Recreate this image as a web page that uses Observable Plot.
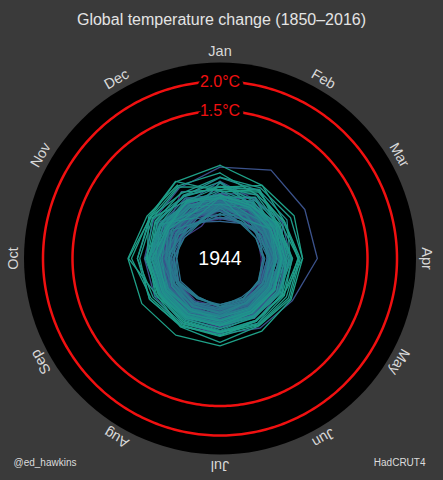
<!DOCTYPE html>
<html><head><meta charset="utf-8">
<script src="https://cdn.jsdelivr.net/npm/d3@7"></script>
<script src="https://cdn.jsdelivr.net/npm/@observablehq/plot@0.6"></script>
<style>
html,body{margin:0;padding:0;background:#3a3a3a;}
#wrap{width:443px;height:480px;background:#3a3a3a;font-family:"Liberation Sans",Arial,sans-serif;overflow:hidden;}
#title{height:34px;line-height:40px;text-align:center;color:#e4e4e4;font-size:16px;}
#chart svg{display:block;}
</style></head><body>
<div id="wrap"><div id="title">Global temperature change (1850–2016)</div><div id="chart"></div></div>
<script>
const months = ["Jan","Feb","Mar","Apr","May","Jun","Jul","Aug","Sep","Oct","Nov","Dec"];
const firstYear = 1850;
const currentYear = 1944;
const colorYears = [1825, 2035];
const rings = [2.0, 1.5];
const ringLabels = ["2.0°C", "1.5°C"];
const credits = ["@ed_hawkins", "HadCRUT4"];
// monthly anomalies (°C, relative to 1850–1900), one row per year 1850..1944
const anomalies = [
[-0.34,0.00,-0.27,-0.30,-0.21,-0.02,0.02,-0.04,-0.10,-0.07,0.06,0.08],
[-0.02,-0.17,0.06,0.02,0.08,0.12,0.18,0.10,0.14,0.16,0.10,0.07],
[-0.02,-0.14,-0.09,-0.14,0.12,0.17,0.04,0.12,0.04,0.06,0.03,0.31],
[0.15,-0.08,-0.01,0.07,0.03,0.02,0.08,0.09,-0.12,-0.05,-0.18,-0.05],
[-0.15,-0.01,-0.06,-0.12,-0.03,0.10,0.16,0.14,0.14,0.03,-0.09,0.02],
[0.04,-0.18,0.10,0.02,0.04,0.03,-0.03,0.09,0.05,-0.03,-0.08,-0.27],
[0.00,-0.13,-0.13,-0.09,-0.06,-0.04,-0.06,-0.01,-0.11,-0.12,-0.14,-0.07],
[-0.08,-0.20,-0.24,-0.26,-0.19,-0.15,-0.10,-0.12,-0.17,-0.16,-0.22,-0.15],
[-0.18,-0.31,-0.15,-0.05,-0.24,-0.15,-0.12,-0.13,-0.18,-0.07,-0.24,-0.14],
[-0.05,0.06,0.14,-0.07,-0.07,0.03,0.04,0.04,-0.08,0.05,-0.24,-0.20],
[-0.10,-0.23,-0.25,-0.11,-0.05,0.00,-0.02,0.02,0.01,-0.01,-0.10,-0.30],
[-0.33,-0.07,-0.17,-0.16,-0.20,-0.03,0.06,0.00,-0.02,-0.02,-0.11,-0.05],
[-0.32,-0.29,-0.20,-0.19,-0.22,-0.18,-0.18,-0.17,-0.19,-0.20,-0.29,-0.37],
[-0.05,0.10,-0.04,-0.07,-0.05,-0.06,0.05,0.02,-0.04,-0.04,0.03,0.07],
[-0.32,-0.20,-0.10,-0.20,-0.18,-0.11,-0.16,-0.13,-0.20,-0.23,-0.25,-0.30],
[0.01,-0.15,-0.12,0.04,0.04,0.06,0.05,0.04,0.08,0.05,-0.04,0.07],
[0.10,0.06,-0.08,0.00,0.06,0.02,0.10,0.05,0.02,0.01,0.03,-0.06],
[-0.01,0.10,-0.12,0.06,-0.09,-0.02,0.00,0.03,0.02,-0.04,-0.14,-0.17],
[-0.20,-0.10,0.08,0.04,0.12,0.06,0.15,0.10,0.08,0.09,0.00,0.18],
[0.02,0.18,0.01,0.02,0.05,0.00,0.02,0.04,0.05,0.06,0.03,-0.06],
[-0.05,-0.08,-0.03,0.06,0.02,0.06,0.10,0.08,0.06,0.00,0.04,-0.20],
[-0.18,-0.22,0.07,-0.03,-0.06,-0.03,0.02,0.00,-0.02,-0.05,-0.18,-0.14],
[-0.10,0.05,0.02,0.05,0.11,0.10,0.09,0.12,0.13,0.10,0.05,0.04],
[0.05,-0.05,-0.02,-0.04,-0.03,-0.03,0.05,0.03,-0.01,0.01,-0.09,0.01],
[0.06,-0.18,-0.12,-0.07,-0.05,-0.06,-0.01,-0.05,-0.07,-0.07,-0.14,-0.04],
[-0.07,-0.22,-0.12,-0.12,-0.02,-0.04,-0.02,-0.06,-0.04,-0.12,-0.20,-0.10],
[-0.07,0.00,-0.20,-0.12,-0.08,-0.08,-0.05,-0.10,-0.06,-0.05,-0.14,-0.20],
[-0.03,0.02,0.07,0.09,0.16,0.23,0.27,0.33,0.28,0.28,0.30,0.38],
[0.55,0.73,0.66,0.65,0.42,0.36,0.28,0.27,0.21,0.15,0.10,0.02],
[0.06,0.00,0.06,0.08,0.00,0.05,0.08,0.12,0.10,0.08,0.02,-0.21],
[0.08,0.04,0.06,0.01,0.03,-0.06,0.02,0.10,0.01,0.00,0.00,0.00],
[0.04,0.04,0.10,0.17,0.13,0.06,0.14,0.07,0.05,0.01,0.06,0.10],
[0.31,0.16,0.23,0.03,0.07,-0.01,0.06,0.10,0.12,0.05,0.01,-0.10],
[-0.14,-0.17,-0.04,0.03,0.07,0.08,0.06,0.06,0.02,-0.04,-0.10,-0.03],
[-0.01,0.05,-0.16,-0.20,-0.10,-0.13,-0.10,-0.08,-0.11,-0.21,-0.27,-0.28],
[-0.31,-0.20,-0.15,-0.16,-0.12,-0.14,-0.05,-0.02,-0.06,-0.07,-0.01,0.03],
[-0.05,-0.16,-0.10,-0.02,-0.09,-0.04,-0.03,-0.05,-0.10,-0.12,-0.18,-0.07],
[-0.32,-0.30,-0.10,-0.12,-0.10,-0.08,-0.08,-0.07,-0.10,-0.14,-0.13,-0.10],
[-0.11,-0.05,-0.14,-0.06,-0.03,-0.02,-0.01,-0.02,-0.02,0.05,0.06,0.10],
[0.10,0.26,0.22,0.20,0.14,0.12,0.12,0.08,0.05,0.04,-0.01,0.05],
[-0.07,-0.12,-0.13,-0.08,-0.09,-0.09,-0.07,-0.15,-0.16,-0.07,-0.15,-0.18],
[-0.19,-0.23,-0.08,-0.01,0.03,0.03,0.03,-0.01,-0.01,0.00,-0.10,-0.06],
[-0.26,-0.05,-0.14,-0.11,-0.12,-0.11,-0.15,-0.10,-0.08,-0.08,-0.25,-0.29],
[-0.37,-0.31,-0.20,-0.16,-0.15,-0.12,-0.10,-0.12,-0.12,-0.06,-0.13,-0.17],
[-0.16,-0.12,-0.06,-0.14,-0.08,-0.13,-0.12,-0.08,-0.06,-0.07,-0.08,-0.06],
[-0.12,-0.20,-0.04,-0.04,-0.06,-0.05,-0.05,-0.02,-0.02,-0.08,-0.04,-0.09],
[-0.02,-0.03,-0.08,0.02,0.06,0.10,0.18,0.18,0.13,0.23,0.16,0.18],
[0.08,0.05,0.11,0.12,0.16,0.14,0.12,0.12,0.08,0.10,0.05,0.00],
[-0.07,0.14,-0.26,-0.13,-0.13,-0.08,-0.06,-0.08,-0.10,-0.16,-0.19,-0.12],
[-0.03,-0.20,-0.07,0.03,-0.03,-0.02,0.05,0.05,0.14,0.10,0.21,0.04],
[0.00,0.10,0.12,0.14,0.13,0.14,0.12,0.13,0.10,0.16,0.02,0.09],
[0.07,0.00,0.11,0.13,0.04,0.04,0.09,0.03,0.02,0.05,-0.04,-0.03],
[0.05,0.10,-0.06,-0.04,-0.13,-0.10,-0.08,-0.12,-0.12,-0.16,-0.26,-0.28],
[-0.04,0.10,-0.12,-0.20,-0.20,-0.25,-0.18,-0.25,-0.23,-0.27,-0.24,-0.31],
[-0.30,-0.28,-0.30,-0.24,-0.23,-0.21,-0.22,-0.22,-0.20,-0.08,0.00,-0.14],
[-0.13,-0.31,-0.06,-0.11,-0.04,-0.05,-0.04,-0.02,-0.07,-0.12,0.09,0.02],
[-0.03,-0.11,-0.03,0.06,-0.08,0.00,-0.02,-0.01,-0.07,0.00,-0.16,0.07],
[-0.20,-0.29,-0.12,-0.16,-0.17,-0.18,-0.15,-0.15,-0.10,-0.07,-0.24,-0.17],
[-0.13,-0.10,-0.27,-0.18,-0.16,-0.17,-0.17,-0.24,-0.18,-0.26,-0.24,-0.22],
[-0.26,-0.14,-0.23,-0.27,-0.24,-0.22,-0.22,-0.12,-0.16,-0.18,-0.14,-0.31],
[-0.11,-0.15,-0.17,-0.14,-0.16,-0.16,-0.13,-0.11,-0.15,-0.22,-0.30,-0.31],
[-0.24,-0.31,-0.30,-0.27,-0.25,-0.20,-0.19,-0.22,-0.16,-0.09,-0.08,-0.10],
[-0.08,0.06,-0.12,-0.03,-0.06,-0.11,-0.18,-0.25,-0.19,-0.22,-0.14,-0.16],
[-0.09,-0.14,-0.16,-0.09,-0.17,-0.13,-0.09,-0.06,-0.11,-0.08,0.01,0.01],
[0.09,-0.04,-0.01,0.00,0.03,0.03,0.05,0.12,0.06,0.12,0.08,0.13],
[0.03,0.20,0.12,0.20,0.14,0.14,0.22,0.17,0.16,0.16,0.15,0.08],
[0.08,0.01,-0.10,-0.05,-0.09,-0.13,-0.07,-0.08,-0.06,-0.12,-0.19,-0.28],
[-0.15,-0.25,-0.22,-0.16,-0.12,-0.13,-0.03,-0.02,-0.06,-0.14,-0.05,-0.29],
[-0.08,-0.21,-0.02,-0.06,-0.10,-0.04,-0.03,-0.01,0.05,0.08,0.06,0.05],
[0.01,0.01,-0.04,0.09,-0.02,0.02,-0.03,0.05,0.09,0.08,0.00,0.01],
[0.14,0.03,0.11,0.09,0.04,0.02,0.06,0.08,0.11,0.06,0.05,-0.06],
[0.28,0.07,0.08,0.06,0.04,0.07,0.13,0.11,0.16,0.20,0.11,0.15],
[0.06,-0.11,0.05,0.02,-0.01,0.00,0.04,-0.02,0.05,-0.02,0.05,0.04],
[0.02,0.00,-0.03,-0.08,0.00,0.03,0.05,0.00,0.02,0.18,0.18,0.10],
[0.08,-0.02,0.04,0.02,0.07,0.07,0.05,0.01,0.01,0.02,0.03,0.00],
[-0.08,-0.03,0.10,0.05,0.04,0.07,0.04,0.09,0.12,0.13,0.24,0.22],
[0.37,0.33,0.31,0.19,0.15,0.12,0.11,0.16,0.18,0.21,0.17,0.09],
[0.16,0.09,0.00,0.04,0.07,0.07,0.09,0.12,0.16,0.21,0.14,-0.10],
[0.29,0.12,0.05,0.06,0.07,0.04,0.14,0.13,0.10,0.11,0.12,0.10],
[0.04,-0.22,0.00,-0.04,-0.04,-0.02,0.00,0.02,0.05,0.09,0.17,-0.20],
[0.04,0.10,0.12,0.10,0.11,0.13,0.14,0.16,0.20,0.25,0.32,0.22],
[0.22,0.15,0.17,0.17,0.20,0.27,0.24,0.23,0.20,0.27,0.17,0.24],
[0.30,0.04,0.07,0.22,0.15,0.15,0.14,0.13,0.27,0.20,0.06,0.12],
[0.02,0.00,-0.01,0.05,0.05,0.03,0.06,0.08,0.07,0.05,0.00,-0.10],
[0.05,0.19,0.03,0.11,0.22,0.21,0.23,0.21,0.18,0.19,0.26,0.21],
[0.22,0.35,0.10,0.04,0.07,0.07,0.13,0.15,0.13,0.15,0.03,0.12],
[0.08,0.04,0.15,0.14,0.18,0.16,0.19,0.19,0.19,0.21,0.22,0.23],
[0.21,0.34,0.14,0.22,0.26,0.28,0.29,0.33,0.38,0.40,0.38,0.28],
[0.38,0.38,0.38,0.40,0.24,0.21,0.25,0.28,0.31,0.40,0.36,0.13],
[0.22,0.24,0.14,0.23,0.22,0.23,0.26,0.26,0.24,0.23,0.40,0.51],
[0.14,0.30,0.24,0.34,0.34,0.31,0.32,0.32,0.38,0.36,0.33,0.40],
[0.21,0.43,0.26,0.36,0.37,0.32,0.42,0.34,0.24,0.55,0.37,0.42],
[0.45,0.25,0.26,0.32,0.30,0.30,0.25,0.24,0.21,0.24,0.27,0.30],
[0.17,0.32,0.19,0.33,0.24,0.22,0.31,0.30,0.35,0.50,0.38,0.50],
[0.58,0.43,0.45,0.40,0.39,0.42,0.48,0.50,0.53,0.56,0.43,0.44]
];

// ---- layout constants (pixels) ----
const W = 443, H = 446;
const cx = 219.5, cy = 224;      // centre of the disk inside the SVG
const k = 59;                    // pixels per °C
const offset = 1;                // radius 0 at −1 °C
const diskR = 196;               // black disk radius in px
const labelR = 207;              // month label radius in px

const rad = t => t + offset;     // radial value in scale units
const toXY = (u, angleDeg) => {
  const a = angleDeg * Math.PI / 180;
  return {x: u * Math.sin(a), y: u * Math.cos(a)};
};

// spiral points: each year's line runs Jan..Dec and on to next January
const pts = [];
anomalies.forEach((row, i) => {
  const year = firstYear + i;
  row.forEach((t, m) => pts.push({year, ...toXY(rad(t), m * 30)}));
  if (i + 1 < anomalies.length) pts.push({year, ...toXY(rad(anomalies[i + 1][0]), 360)});
});

// ring outlines
const ringPts = [];
rings.forEach(r => { for (let a = 0; a <= 360; a += 1) ringPts.push({ring: r, ...toXY(rad(r), a)}); });
const ringText = rings.map((r, i) => ({label: ringLabels[i], ...toXY(rad(r), 0)}));
const monthText = months.map((m, i) => ({label: m, rot: i * 30, ...toXY(labelR / k, i * 30)}));

const chart = Plot.plot({
  width: W, height: H,
  margin: 0,
  style: {background: "transparent", fontFamily: "'Liberation Sans', Arial, sans-serif"},
  x: {domain: [-cx / k, (W - cx) / k], range: [0, W], axis: null},
  y: {domain: [-(H - cy) / k, cy / k], range: [H, 0], axis: null},
  color: {type: "sequential", scheme: "viridis", domain: colorYears},
  marks: [
    Plot.dot([{x: 0, y: 0}], {x: "x", y: "y", r: diskR, fill: "black", stroke: "none"}),
    Plot.line(ringPts, {x: "x", y: "y", z: "ring", stroke: "#f01010", strokeWidth: 2.5, curve: "linear"}),
    Plot.text(ringText, {x: "x", y: "y", text: "label", fill: "#f01010", fontSize: 16,
      stroke: "black", strokeWidth: 7, paintOrder: "stroke"}),
    Plot.line(pts, {x: "x", y: "y", z: "year", stroke: "year", strokeWidth: 1.3, curve: "linear"}),
    Plot.text([{x: 0, y: 0, label: String(currentYear)}], {x: "x", y: "y", text: "label", fill: "white", fontSize: 19.5}),
    Plot.text(monthText, {x: "x", y: "y", text: "label", rotate: "rot", fill: "#d8d8d8", fontSize: 14.5}),
    Plot.text([credits[0]], {frameAnchor: "bottom-left", dx: 13, dy: -15, textAnchor: "start", fill: "#dcdcdc", fontSize: 10}),
    Plot.text([credits[1]], {frameAnchor: "bottom-right", dx: -18, dy: -15, textAnchor: "end", fill: "#dcdcdc", fontSize: 10})
  ]
});
document.getElementById("chart").appendChild(chart);
</script>
</body></html>
